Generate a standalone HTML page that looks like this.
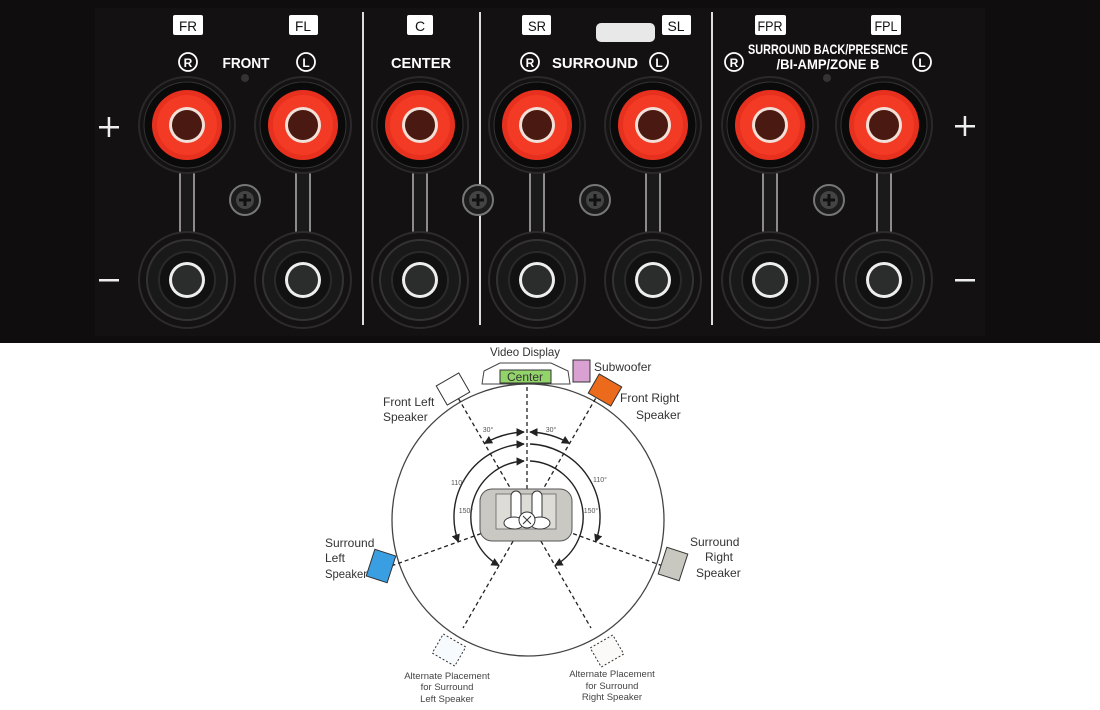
<!DOCTYPE html>
<html><head><meta charset="utf-8"><style>
html,body{margin:0;padding:0;background:#fff}
svg{display:block}
.lb{font-family:"Liberation Sans Narrow","Liberation Sans",sans-serif;font-weight:bold;fill:#fff}
.bx{font-family:"Liberation Sans Narrow","Liberation Sans",sans-serif;fill:#111;font-size:14px}
.d{font-family:"Liberation Sans Narrow","Liberation Sans",sans-serif;fill:#333;font-size:12px}
.s{font-family:"Liberation Sans Narrow","Liberation Sans",sans-serif;fill:#444;font-size:9.5px}
.a{font-family:"Liberation Sans Narrow","Liberation Sans",sans-serif;fill:#555;font-size:7px}
</style></head><body>
<svg width="1100" height="710" viewBox="0 0 1100 710" xmlns="http://www.w3.org/2000/svg">
<defs>
<g id="plus">
<circle r="48" fill="#141213" stroke="#2a2828" stroke-width="2"/>
<circle r="43" fill="#0b0a0a" stroke="#333" stroke-width="1"/>
<circle r="35" fill="#e8301e"/>
<circle r="30" fill="#f23a25"/>
<circle r="18" fill="#f0e0d8"/>
<circle r="15" fill="#4a1a12"/>
</g>
<g id="minus">
<circle r="48" fill="#141213" stroke="#2d2b2b" stroke-width="2"/>
<circle r="40" fill="#1a1919" stroke="#333" stroke-width="2"/>
<circle r="28" fill="#111" stroke="#2a2a2a" stroke-width="2"/>
<circle r="18" fill="#eee"/>
<circle r="15" fill="#2b2d2d"/>
</g>
<g id="conn">
<rect x="-6" y="0" width="12" height="60" fill="#1b1a1a"/>
<line x1="-7" y1="0" x2="-7" y2="60" stroke="#ccc" stroke-width="1.3"/>
<line x1="7" y1="0" x2="7" y2="60" stroke="#ccc" stroke-width="1.3"/>
</g>
<g id="screw">
<circle r="15" fill="#1c1c1c" stroke="#777" stroke-width="2"/>
<circle r="9" fill="#444"/>
<path d="M-6 0H6M0 -6V6" stroke="#111" stroke-width="3"/>
</g>
<marker id="ar" viewBox="0 0 10 10" refX="9" refY="5" markerWidth="6" markerHeight="6" orient="auto-start-reverse"><path d="M0 0L10 5L0 10z" fill="#222"/></marker>
</defs>
<rect x="0" y="0" width="1100" height="343" fill="#0f0d0d"/>
<rect x="95" y="8" width="890" height="328" fill="#141112"/>
<g stroke="#ddd" stroke-width="2">
<line x1="363" y1="12" x2="363" y2="325"/><line x1="480" y1="12" x2="480" y2="325"/><line x1="712" y1="12" x2="712" y2="325"/>
</g>
<g fill="#fff">
<rect x="173" y="15" width="30" height="20" rx="2"/><rect x="289" y="15" width="29" height="20" rx="2"/>
<rect x="407" y="15" width="26" height="20" rx="2"/><rect x="522" y="15" width="29" height="20" rx="2"/>
<rect x="662" y="15" width="29" height="20" rx="2"/><rect x="755" y="15" width="31" height="20" rx="2"/>
<rect x="871" y="15" width="30" height="20" rx="2"/>
<rect x="596" y="23" width="59" height="19" rx="5" fill="#e8e8e8"/>
</g>
<g class="bx" text-anchor="middle">
<text x="188" y="31" textLength="18" lengthAdjust="spacingAndGlyphs">FR</text>
<text x="303" y="31" textLength="16" lengthAdjust="spacingAndGlyphs">FL</text>
<text x="420" y="31">C</text>
<text x="537" y="31" textLength="18" lengthAdjust="spacingAndGlyphs">SR</text>
<text x="676" y="31" textLength="17" lengthAdjust="spacingAndGlyphs">SL</text>
<text x="770" y="31" textLength="25" lengthAdjust="spacingAndGlyphs">FPR</text>
<text x="886" y="31" textLength="23" lengthAdjust="spacingAndGlyphs">FPL</text>
</g>
<g fill="none" stroke="#fff" stroke-width="1.8">
<circle cx="188" cy="62" r="9"/><circle cx="306" cy="62" r="9"/><circle cx="530" cy="62" r="9"/>
<circle cx="659" cy="62" r="9"/><circle cx="734" cy="62" r="9"/><circle cx="922" cy="62" r="9"/>
</g>
<g class="lb" text-anchor="middle">
<text x="188" y="67" font-size="12">R</text><text x="306" y="67" font-size="12">L</text>
<text x="530" y="67" font-size="12">R</text><text x="659" y="67" font-size="12">L</text>
<text x="734" y="67" font-size="12">R</text><text x="922" y="67" font-size="12">L</text>
<text x="246" y="68" font-size="15" textLength="47" lengthAdjust="spacingAndGlyphs">FRONT</text>
<text x="421" y="68" font-size="15" textLength="60" lengthAdjust="spacingAndGlyphs">CENTER</text>
<text x="595" y="68" font-size="15" textLength="86" lengthAdjust="spacingAndGlyphs">SURROUND</text>
<text x="828" y="54" font-size="14" textLength="160" lengthAdjust="spacingAndGlyphs">SURROUND BACK/PRESENCE</text>
<text x="828" y="69" font-size="14" textLength="103" lengthAdjust="spacingAndGlyphs">/BI-AMP/ZONE B</text>
</g>
<circle cx="245" cy="78" r="4" fill="#333"/><circle cx="827" cy="78" r="4" fill="#333"/>
<g fill="#eee">
<rect x="99" y="126" width="20" height="2.5"/><rect x="107.7" y="117" width="2.5" height="20"/>
<rect x="955" y="125" width="20" height="2.5"/><rect x="963.7" y="116" width="2.5" height="20"/>
<rect x="99" y="279" width="20" height="2.5"/><rect x="955" y="279" width="20" height="2.5"/>
</g>
<g>
<use href="#conn" x="187" y="172"/><use href="#conn" x="303" y="172"/><use href="#conn" x="420" y="172"/>
<use href="#conn" x="537" y="172"/><use href="#conn" x="653" y="172"/><use href="#conn" x="770" y="172"/><use href="#conn" x="884" y="172"/>
<use href="#plus" x="187" y="125"/><use href="#plus" x="303" y="125"/><use href="#plus" x="420" y="125"/>
<use href="#plus" x="537" y="125"/><use href="#plus" x="653" y="125"/><use href="#plus" x="770" y="125"/><use href="#plus" x="884" y="125"/>
<use href="#minus" x="187" y="280"/><use href="#minus" x="303" y="280"/><use href="#minus" x="420" y="280"/>
<use href="#minus" x="537" y="280"/><use href="#minus" x="653" y="280"/><use href="#minus" x="770" y="280"/><use href="#minus" x="884" y="280"/>
<use href="#screw" x="245" y="200"/><use href="#screw" x="478" y="200"/><use href="#screw" x="595" y="200"/><use href="#screw" x="829" y="200"/>
</g>
<circle cx="528" cy="520" r="136" fill="none" stroke="#444" stroke-width="1.3"/>
<g stroke="#222" stroke-width="1.3" stroke-dasharray="4 3" fill="none">
<line x1="527" y1="517" x2="527" y2="384"/>
<line x1="527" y1="517" x2="457" y2="396"/>
<line x1="527" y1="517" x2="597" y2="396"/>
<line x1="527" y1="517" x2="391" y2="566"/>
<line x1="527" y1="517" x2="663" y2="566"/>
<line x1="527" y1="517" x2="463" y2="628"/>
<line x1="527" y1="517" x2="591" y2="628"/>
</g>
<rect x="480" y="489" width="92" height="52" rx="12" fill="#c9c8c2" stroke="#555" stroke-width="1"/>
<rect x="496" y="494" width="60" height="35" fill="#dedcd6" stroke="#666" stroke-width="0.8"/>
<rect x="511" y="491" width="10" height="34" rx="5" fill="#fff" stroke="#333"/>
<rect x="532" y="491" width="10" height="34" rx="5" fill="#fff" stroke="#333"/>
<ellipse cx="514" cy="523" rx="10" ry="6" fill="#fff" stroke="#333"/>
<ellipse cx="540" cy="523" rx="10" ry="6" fill="#fff" stroke="#333"/>
<circle cx="527" cy="520" r="8" fill="#fff" stroke="#333"/>
<path d="M523 516l8 8M531 516l-8 8" stroke="#333" stroke-width="1"/>
<g fill="none" stroke="#222" stroke-width="1.4">
<path d="M484.5 443.4A85 85 0 0 1 524 432" marker-start="url(#ar)" marker-end="url(#ar)"/>
<path d="M530 432A85 85 0 0 1 569.5 443.4" marker-start="url(#ar)" marker-end="url(#ar)"/>
<path d="M458.4 542A73 73 0 0 1 524 444" marker-start="url(#ar)" marker-end="url(#ar)"/>
<path d="M530 444A73 73 0 0 1 595.6 542" marker-end="url(#ar)"/>
<path d="M499 565.5A56 56 0 0 1 524 461" marker-start="url(#ar)" marker-end="url(#ar)"/>
<path d="M530 461A56 56 0 0 1 555 565.5" marker-end="url(#ar)"/>
</g>
<g class="a" text-anchor="middle">
<text x="488" y="432">30°</text><text x="551" y="432">30°</text>
<text x="458" y="485">110°</text><text x="600" y="482">110°</text>
<text x="466" y="513">150°</text><text x="591" y="513">150°</text>
</g>
<path d="M482 384L484 371L500 363L551 363L568 371L570 384Z" fill="#fff" stroke="#444"/>
<rect x="500" y="370" width="51" height="13" fill="#93d46a" stroke="#333"/>
<text x="525" y="381" text-anchor="middle" class="d" font-size="11">Center</text>
<text x="525" y="356" text-anchor="middle" class="d" textLength="70" lengthAdjust="spacingAndGlyphs">Video Display</text>
<rect x="573" y="360" width="17" height="22" fill="#d9a0d2" stroke="#333"/>
<text x="594" y="371" class="d">Subwoofer</text>
<rect x="-13" y="-11" width="26" height="22" fill="#ec6a1c" stroke="#333" transform="translate(605,390) rotate(30)"/>
<rect x="-13" y="-11" width="26" height="22" fill="#fff" stroke="#333" transform="translate(453,389) rotate(-30)"/>
<rect x="-11" y="-14" width="22" height="28" fill="#3a9fe2" stroke="#333" transform="translate(381,566) rotate(18)"/>
<rect x="-11" y="-14" width="22" height="28" fill="#c9c8c0" stroke="#333" transform="translate(673,564) rotate(18)"/>
<rect x="-13" y="-11" width="26" height="22" fill="#f8fbfd" stroke="#333" stroke-dasharray="2 2" transform="translate(449,650) rotate(30)"/>
<rect x="-13" y="-11" width="26" height="22" fill="#fbfaf8" stroke="#333" stroke-dasharray="2 2" transform="translate(607,651) rotate(-30)"/>
<g class="d">
<text x="383" y="406">Front Left</text><text x="383" y="421">Speaker</text>
<text x="620" y="402">Front Right</text><text x="636" y="419">Speaker</text>
<text x="325" y="547">Surround</text><text x="325" y="562">Left</text><text x="325" y="578" textLength="42" lengthAdjust="spacingAndGlyphs">Speaker</text>
<text x="690" y="546">Surround</text><text x="705" y="561">Right</text><text x="696" y="577">Speaker</text>
</g>
<g class="s" text-anchor="middle">
<text x="447" y="679">Alternate Placement</text><text x="447" y="690">for Surround</text><text x="447" y="702">Left Speaker</text>
<text x="612" y="677">Alternate Placement</text><text x="612" y="689">for Surround</text><text x="612" y="700">Right Speaker</text>
</g>
</svg>
</body></html>
